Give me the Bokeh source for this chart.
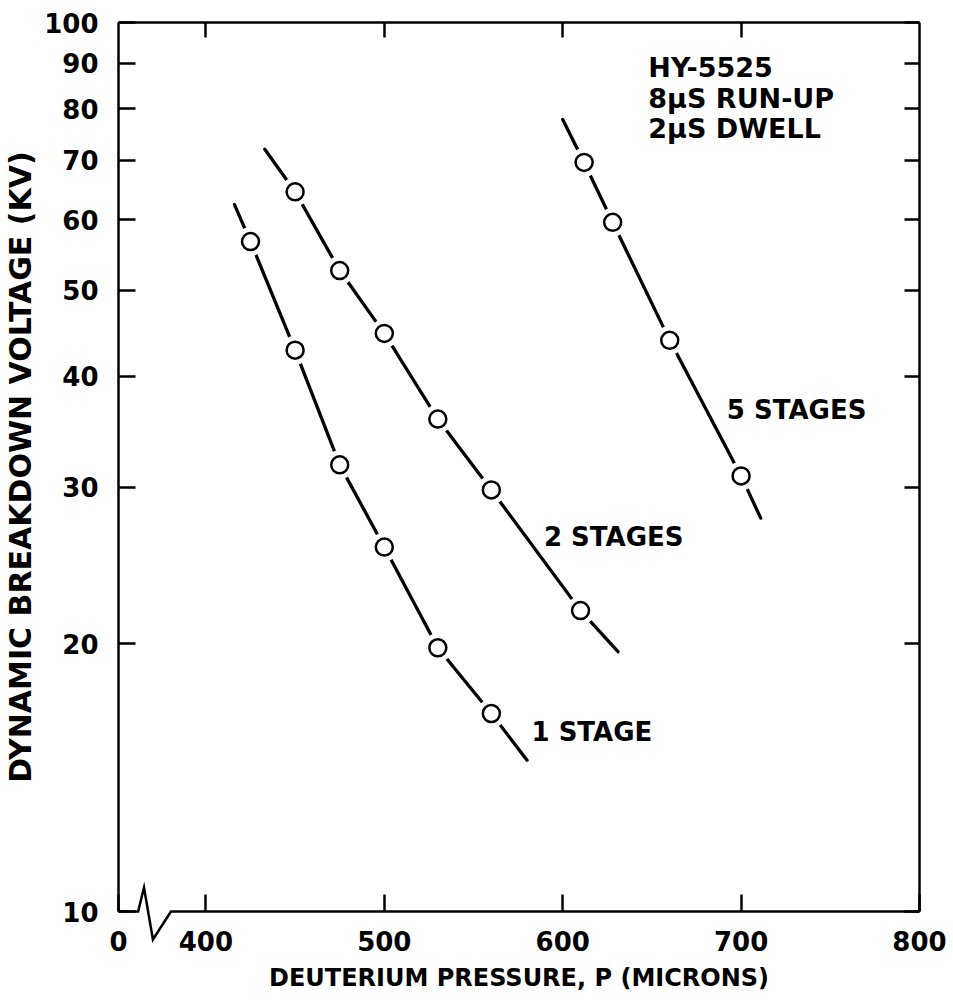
from bokeh.plotting import figure
from bokeh.models import (FixedTicker, LogAxis, LinearAxis, Label,
                          CustomJSTickFormatter)
from bokeh.embed import file_html
from bokeh.resources import INLINE

FONT = "DejaVu Sans"

# ---- data -------------------------------------------------------------
x_ticks = [400, 500, 600, 700, 800]
x_tick_labels = ["400", "500", "600", "700", "800"]
x_origin = 351
x_origin_label = "0"
y_ticks = [10, 20, 30, 40, 50, 60, 70, 80, 90, 100]
y_tick_labels = ["10", "20", "30", "40", "50", "60", "70", "80", "90", "100"]

stage1_p = [425, 450, 475, 500, 530, 560]
stage1_v = [56.7, 42.8, 31.8, 25.7, 19.8, 16.7]
stage2_p = [450, 475, 500, 530, 560, 610]
stage2_v = [64.5, 52.6, 44.7, 35.8, 29.8, 21.8]
stage5_p = [612, 628, 660, 700]
stage5_v = [69.6, 59.6, 43.9, 30.9]

# fitted-curve extents beyond the measured points
stage1_ends_p = [416, 580]
stage1_ends_v = [62.4, 14.8]
stage2_ends_p = [433, 631]
stage2_ends_v = [72.0, 19.6]
stage5_ends_p = [600, 711]
stage5_ends_v = [77.8, 27.7]

series_names = ["1 STAGE", "2 STAGES", "5 STAGES"]
note_lines = ["HY-5525", "8\u03bcS RUN-UP", "2\u03bcS DWELL"]

# ---- figure -----------------------------------------------------------
p = figure(frame_width=801, frame_height=889,
           x_range=(x_origin, 800), y_range=(10, 100), y_axis_type="log",
           output_backend="svg", toolbar_location=None,
           min_border_left=110, min_border_top=22, min_border_right=30,
           min_border_bottom=78)
p.outline_line_color = None
p.grid.visible = False
p.background_fill_color = "white"

for ax in p.xaxis:
    ax.ticker = FixedTicker(ticks=[x_origin] + x_ticks)
    ov = {x_origin: x_origin_label}
    for t, l in zip(x_ticks, x_tick_labels):
        ov[t] = l
    ax.major_label_overrides = ov
    ax.axis_line_color = None
    ax.major_tick_in = 17
    ax.major_tick_out = 0
    ax.major_tick_line_width = 2.5
    ax.minor_tick_line_color = None
    ax.major_label_standoff = 19
    ax.major_label_text_font = FONT
    ax.major_label_text_font_style = "bold"
    ax.major_label_text_font_size = "26px"
    ax.major_label_text_color = "black"
    ax.axis_label = "DEUTERIUM PRESSURE, P (MICRONS)"
    ax.axis_label_text_font = FONT
    ax.axis_label_text_font_style = "bold"
    ax.axis_label_text_font_size = "24px"
    ax.axis_label_text_color = "black"
    ax.axis_label_standoff = 10

for ax in p.yaxis:
    ax.ticker = FixedTicker(ticks=y_ticks)
    ax.major_label_overrides = {t: l for t, l in zip(y_ticks, y_tick_labels)}
    ax.axis_line_width = 2.5
    ax.major_tick_in = 17
    ax.major_tick_out = 0
    ax.major_tick_line_width = 2.5
    ax.minor_tick_line_color = None
    ax.major_label_standoff = 20
    ax.major_label_text_font = FONT
    ax.major_label_text_font_style = "bold"
    ax.major_label_text_font_size = "26px"
    ax.major_label_text_color = "black"
    ax.axis_label = "DYNAMIC BREAKDOWN VOLTAGE (KV)"
    ax.axis_label_text_font = FONT
    ax.axis_label_text_font_style = "bold"
    ax.axis_label_text_font_size = "30px"
    ax.axis_label_text_color = "black"
    ax.axis_label_standoff = 3

blank = CustomJSTickFormatter(code="return ''")
right = LogAxis(ticker=FixedTicker(ticks=y_ticks), formatter=blank,
                major_tick_in=15, major_tick_out=0, major_tick_line_width=2.5,
                minor_tick_line_color=None, axis_line_width=2.5,
                major_label_text_font_size="1px", major_label_standoff=0)
p.add_layout(right, "right")
top = LinearAxis(ticker=FixedTicker(ticks=x_ticks[:-1]), formatter=blank,
                 major_tick_in=15, major_tick_out=0, major_tick_line_width=2.5,
                 minor_tick_line_color=None, axis_line_width=2.5,
                 major_label_text_font_size="1px", major_label_standoff=0)
p.add_layout(top, "above")

# bottom axis line with the scale break (overlay level so it is not clipped)
break_x = [351.0, 362.0, 365.3, 370.3, 380.4, 800.0]
break_y = [10.0, 10.0, 10.64, 9.30, 10.0, 10.0]
p.line(break_x, break_y, line_color="black", line_width=2.5,
       line_join="miter", level="overlay")

# ---- curves & points ---------------------------------------------------
curves = [
    ([stage1_ends_p[0]] + stage1_p + [stage1_ends_p[1]],
     [stage1_ends_v[0]] + stage1_v + [stage1_ends_v[1]], stage1_p, stage1_v),
    ([stage2_ends_p[0]] + stage2_p + [stage2_ends_p[1]],
     [stage2_ends_v[0]] + stage2_v + [stage2_ends_v[1]], stage2_p, stage2_v),
    ([stage5_ends_p[0]] + stage5_p + [stage5_ends_p[1]],
     [stage5_ends_v[0]] + stage5_v + [stage5_ends_v[1]], stage5_p, stage5_v),
]
for cx, cy, px, py in curves:
    p.line(cx, cy, line_color="black", line_width=3.3, line_cap="round")
for cx, cy, px, py in curves:
    p.scatter(px, py, size=29, fill_color="white", line_color=None)
    p.scatter(px, py, size=17, fill_color="white", line_color="black", line_width=2.5)

# ---- labels -----------------------------------------------------------
label_pos = [(582.5, 15.9), (589.5, 26.4), (692.0, 36.7)]
for name, (lx, ly) in zip(series_names, label_pos):
    p.add_layout(Label(x=lx, y=ly, text=name, text_font=FONT, text_font_style="bold",
                       text_font_size="26px", text_baseline="middle", text_color="black"))

note_y = [89.0, 82.1, 76.0]
for t, ny in zip(note_lines, note_y):
    p.add_layout(Label(x=648.0, y=ny, text=t, text_font=FONT, text_font_style="bold",
                       text_font_size="27px", text_baseline="middle", text_color="black"))

open("out.html", "w").write(file_html(p, INLINE))
